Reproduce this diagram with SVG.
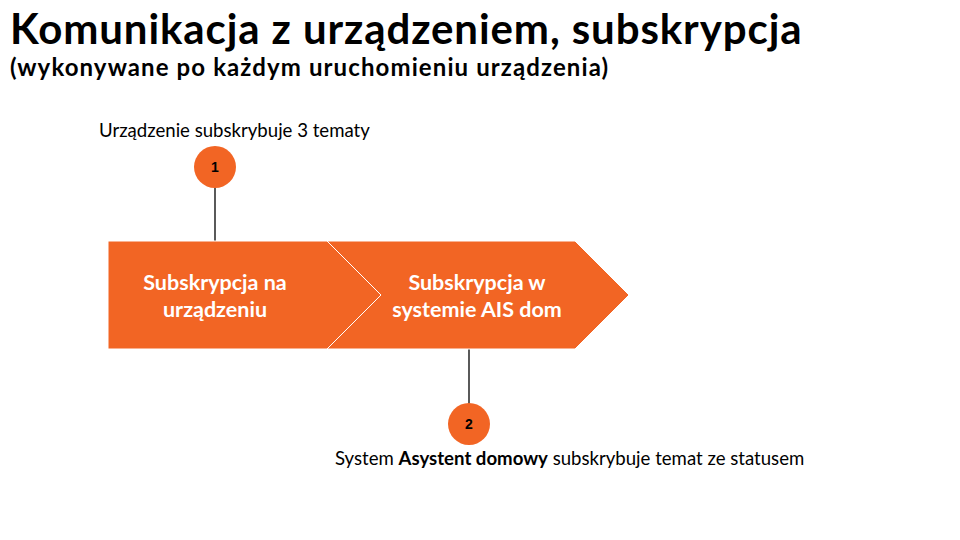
<svg xmlns="http://www.w3.org/2000/svg" width="960" height="540" viewBox="0 0 960 540">
<style>
.title{font-family:"Lato","Liberation Sans",sans-serif;font-weight:bold;fill:#000}
.shape{fill:#F26524;stroke:#fff;stroke-width:1}
.lbl{font-family:"Lato","Liberation Sans",sans-serif;font-weight:bold;font-size:21.5px;fill:#fff;text-anchor:middle}
.num{font-family:"Liberation Sans",Arial,sans-serif;font-weight:bold;font-size:14px;fill:#000;text-anchor:middle}
.badge{fill:#F26524}
.note{font-family:"Lato","Liberation Sans",sans-serif;font-size:18.6px;fill:#000}
.conn{stroke:#000;stroke-width:1.3;fill:none}
</style>
<rect width="960" height="540" fill="#fff"/>
<text class="title" x="10" y="44" font-size="42" letter-spacing="0.9">Komunikacja z urządzeniem, subskrypcja</text>
<text class="title" x="10" y="76" font-size="24" letter-spacing="1.1">(wykonywane po każdym uruchomieniu urządzenia)</text>
<g id="connectors">
<line class="conn" x1="215" y1="187" x2="215" y2="241"/>
<line class="conn" x1="469" y1="349" x2="469" y2="404"/>
</g>
<g id="node-step1">
<path class="shape" d="M108,241 H327 L381,295 L327,349 H108 Z"/>
<text class="lbl" x="215" y="290">Subskrypcja na</text>
<text class="lbl" x="215" y="317">urządzeniu</text>
</g>
<g id="node-step2">
<path class="shape" d="M327,241 H575 L629,295 L575,349 H327 L381,295 Z"/>
<text class="lbl" x="477" y="290">Subskrypcja w</text>
<text class="lbl" x="477" y="317">systemie AIS dom</text>
</g>
<g id="badge1">
<circle class="badge" cx="215" cy="167" r="21"/>
<text class="num" x="215" y="172">1</text>
</g>
<g id="badge2">
<circle class="badge" cx="469" cy="424" r="21"/>
<text class="num" x="469" y="429">2</text>
</g>
<g id="note1">
<text class="note" x="99" y="137">Urządzenie subskrybuje 3 tematy</text>
</g>
<g id="note2">
<text class="note" x="335" y="465">System <tspan font-weight="bold">Asystent domowy</tspan> subskrybuje temat ze statusem</text>
</g>
</svg>
